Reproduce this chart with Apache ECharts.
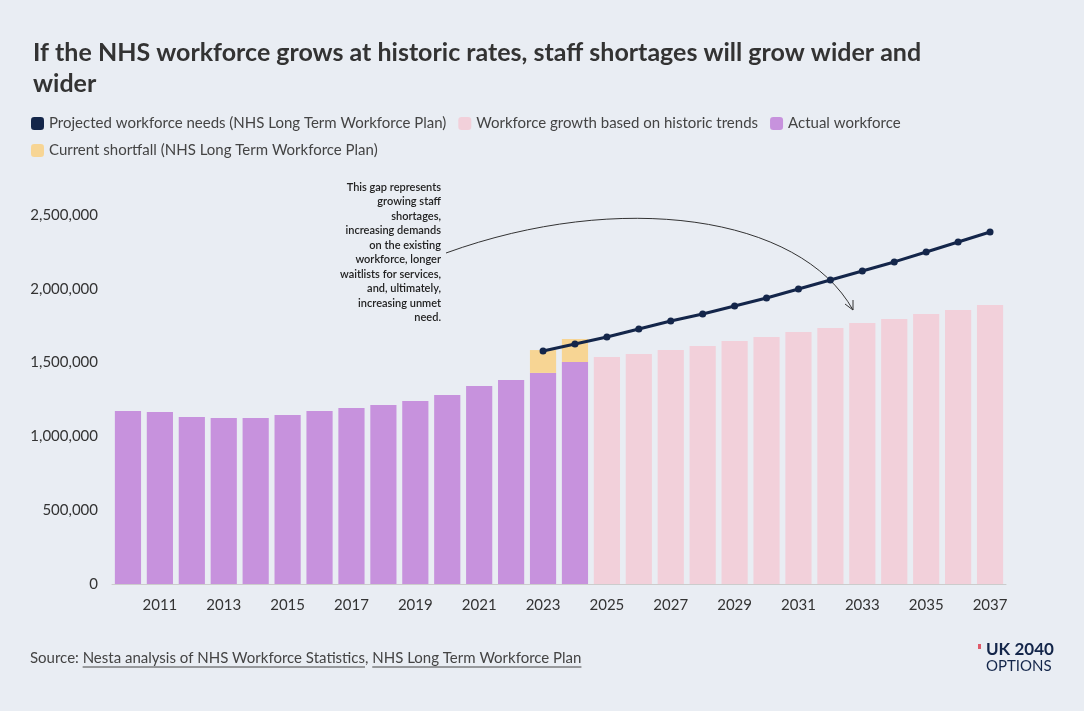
<!DOCTYPE html><html><head><meta charset="utf-8">
<script src="https://cdn.jsdelivr.net/npm/echarts@6/dist/echarts.min.js"></script>
<style>html,body{margin:0;background:#e9edf3}#c{width:1084px;height:711px}</style></head><body><div id="c"></div>
<script>
const years=[];for(let y=2010;y<=2037;y++)years.push(String(y));
const actual=[1172000,1165000,1131000,1125000,1125000,1145000,1172000,1192000,1213000,1240000,1280000,1341000,1382000,1430000,1504000,null,null,null,null,null,null,null,null,null,null,null,null,null];
const shortfall=[null,null,null,null,null,null,null,null,null,null,null,null,null,155000,156000,null,null,null,null,null,null,null,null,null,null,null,null,null];
const historic=[null,null,null,null,null,null,null,null,null,null,null,null,null,null,null,1538000,1558000,1585000,1612000,1646000,1673000,1707000,1734000,1768000,1795000,1829000,1856000,1890000];
const projected=[null,null,null,null,null,null,null,null,null,null,null,null,null,1579000,1626000,1673000,1728000,1782000,1829000,1883000,1938000,1999000,2060000,2121000,2182000,2249000,2317000,2385000];
const ff='Lato, "Noto Sans", sans-serif';
const mc=document.createElement('canvas').getContext('2d');mc.font='15px Lato';
const w=s=>mc.measureText(s).width;
const s1='Source: ',s2='Nesta analysis of NHS Workforce Statistics',s3=', ',s4='NHS Long Term Workforce Plan';
const x2=30+w(s1),x3=x2+w(s2),x4=x3+w(s3),x5=x4+w(s4);
const ch=echarts.init(document.getElementById('c'));
ch.setOption({
 backgroundColor:'#e9edf3',animation:false,
 title:{text:'If the NHS workforce grows at historic rates, staff shortages will grow wider and\nwider',left:28,top:32,textStyle:{fontFamily:ff,fontWeight:'bold',fontSize:25,color:'#333',lineHeight:31}},
 legend:{left:26,top:111,width:1000,itemWidth:13,itemHeight:13,itemGap:12,icon:'roundRect',textStyle:{fontFamily:ff,fontSize:15,color:'#444'},
  data:['Projected workforce needs (NHS Long Term Workforce Plan)','Workforce growth based on historic trends','Actual workforce','Current shortfall (NHS Long Term Workforce Plan)']},
 grid:{left:112,right:78,top:215,bottom:127},
 xAxis:{type:'category',data:years,axisTick:{show:false},axisLine:{lineStyle:{color:'#ccc'}},
  axisLabel:{interval:(i)=>i%2===1,fontFamily:ff,fontSize:15,color:'#333',margin:14}},
 yAxis:{type:'value',min:0,max:2500000,interval:500000,splitLine:{show:false},
  axisLabel:{fontFamily:ff,fontSize:15,color:'#333',margin:14,formatter:v=>v.toLocaleString('en-US')}},
 series:[
  {name:'Actual workforce',type:'bar',stack:'a',data:actual,itemStyle:{color:'#c792dd'},barCategoryGap:'18%'},
  {name:'Current shortfall (NHS Long Term Workforce Plan)',type:'bar',stack:'a',data:shortfall,itemStyle:{color:'#f7d594'}},
  {name:'Workforce growth based on historic trends',type:'bar',stack:'a',data:historic,itemStyle:{color:'#f2d0da'}},
  {name:'Projected workforce needs (NHS Long Term Workforce Plan)',type:'line',data:projected,color:'#14264a',lineStyle:{width:3,color:'#14264a'},symbol:'circle',symbolSize:7,itemStyle:{color:'#14264a'},z:5}
 ],
 graphic:[
  {type:'text',x:441,y:180,style:{text:'This gap represents\ngrowing staff\nshortages,\nincreasing demands\non the existing\nworkforce, longer\nwaitlists for services,\nand, ultimately,\nincreasing unmet\nneed.',align:'right',verticalAlign:'top',font:'600 11px '+ff,lineHeight:14.5,fill:'#222'}},
  {type:'bezierCurve',shape:{x1:446,y1:253,cpx1:620,cpy1:190,cpx2:800,cpy2:215,x2:853,y2:310},style:{stroke:'#333',lineWidth:1,fill:null}},
  {type:'polyline',shape:{points:[[845,304],[853,310],[853,300]]},style:{stroke:'#333',lineWidth:1,fill:null}},
  {type:'text',x:30,y:651,style:{text:s1+s2+s3+s4,font:'15px Lato',fill:'#444'}},
  {type:'line',shape:{x1:x2,y1:667,x2:x3,y2:667},style:{stroke:'#444',lineWidth:1}},
  {type:'line',shape:{x1:x4,y1:667,x2:x5,y2:667},style:{stroke:'#444',lineWidth:1}},
  {type:'text',left:986,top:641,style:{text:'UK 2040',font:'bold 17px '+ff,fill:'#14264a'}},
  {type:'text',left:986,top:659,style:{text:'OPTIONS',font:'15px '+ff,fill:'#14264a'}},
  {type:'rect',shape:{x:978,y:644,width:3,height:5},style:{fill:'#e05a6a'}}
 ]
});
</script></body></html>
